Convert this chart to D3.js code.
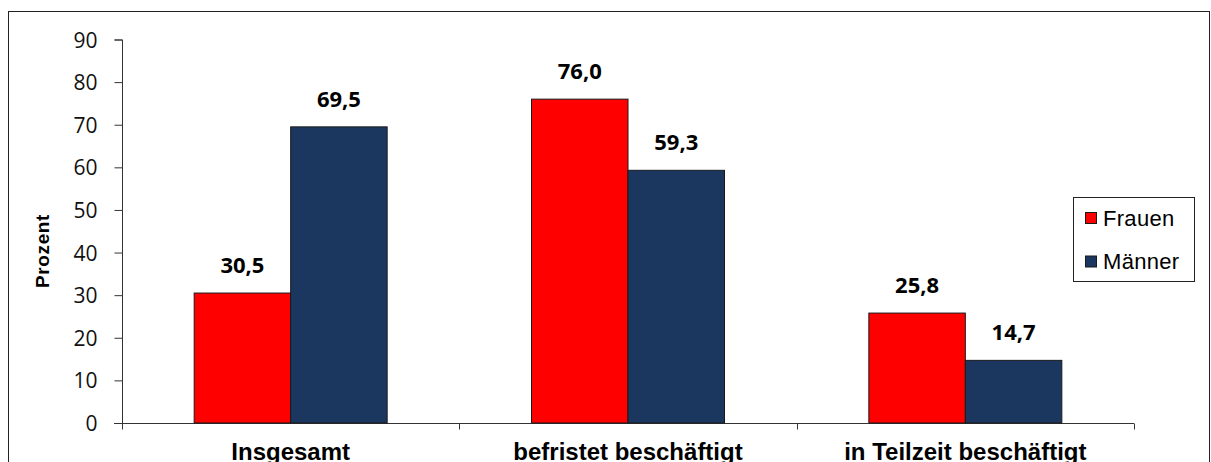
<!DOCTYPE html>
<html>
<head>
<meta charset="utf-8">
<script src="https://cdn.jsdelivr.net/npm/d3@7"></script>
<style>
  body { margin: 0; background: #fff; }
  svg { display: block; }
</style>
</head>
<body>
<div id="chart"></div>
<script>
// data
var categories = ["Insgesamt", "befristet beschäftigt", "in Teilzeit beschäftigt"];
var seriesNames = ["Frauen", "Männer"];
var frauen = [30.5, 76.0, 25.8];
var maenner = [69.5, 59.3, 14.7];
var yTicks = [0, 10, 20, 30, 40, 50, 60, 70, 80, 90];
var colors = ["#ff0000", "#1b365f"];

var W = 1211, H = 462;
var svg = d3.select("#chart").append("svg")
  .attr("width", W)
  .attr("height", H);

// chart frame
svg.append("rect")
  .attr("x", 8.5).attr("y", 11.5)
  .attr("width", 1201).attr("height", 470)
  .attr("fill", "none")
  .attr("stroke", "#222")
  .attr("stroke-width", 1);

var x0 = d3.scaleBand().domain(categories).range([122, 1134]).paddingInner(0).paddingOuter(0);
var x1 = d3.scaleBand().domain(seriesNames).range([0, x0.bandwidth()]).paddingInner(0).paddingOuter(0.748);
var y = d3.scaleLinear().domain([0, 90]).range([423, 39.5]);

var rows = categories.map(function (c, i) {
  return { cat: c, values: [frauen[i], maenner[i]] };
});

// y axis
var yAxis = svg.append("g")
  .attr("transform", "translate(122.5,0)")
  .call(d3.axisLeft(y).tickValues(yTicks).tickSize(8).tickPadding(17).tickFormat(d3.format("d")));
yAxis.select(".domain").attr("stroke", "#333").attr("d", "M-8," + (y(90) + 0.5) + "H0V" + (y(0) + 5));
yAxis.selectAll(".tick line").attr("stroke", "#333");
yAxis.selectAll(".tick text")
  .attr("font-family", "'Open Sans', sans-serif")
  .attr("font-size", 21)
  .attr("fill", "#111")
  .attr("dy", "0.357em");

// x axis
var xAxis = svg.append("g")
  .attr("transform", "translate(0," + (y(0) + 0.5) + ")");
xAxis.append("line")
  .attr("x1", 114).attr("x2", 1134)
  .attr("stroke", "#333");
var bounds = categories.map(function (c) { return x0(c); }).concat([x0.range()[1]]);
xAxis.selectAll("line.cut")
  .data(bounds)
  .enter().append("line")
  .attr("class", "cut")
  .attr("x1", function (d) { return Math.round(d) + 0.5; })
  .attr("x2", function (d) { return Math.round(d) + 0.5; })
  .attr("y1", 0).attr("y2", 6)
  .attr("stroke", "#333");
xAxis.selectAll("text")
  .data(categories)
  .enter().append("text")
  .attr("x", function (d) { return x0(d) + x0.bandwidth() / 2; })
  .attr("y", 36)
  .attr("text-anchor", "middle")
  .attr("font-family", "'Liberation Sans', Arial, sans-serif")
  .attr("font-weight", "bold")
  .attr("font-size", 24)
  .attr("fill", "#000")
  .text(function (d) { return d; });

// y title
svg.append("text")
  .attr("transform", "translate(49,251) rotate(-90)")
  .attr("text-anchor", "middle")
  .attr("font-family", "'Liberation Sans', Arial, sans-serif")
  .attr("font-weight", "bold")
  .attr("font-size", 19)
  .attr("letter-spacing", 0.6)
  .attr("fill", "#000")
  .text("Prozent");

// bars
var groups = svg.selectAll("g.grp")
  .data(rows)
  .enter().append("g")
  .attr("class", "grp")
  .attr("transform", function (d) { return "translate(" + x0(d.cat) + ",0)"; });

groups.selectAll("rect")
  .data(function (d) { return d.values.map(function (v, i) { return { s: seriesNames[i], v: v, i: i }; }); })
  .enter().append("rect")
  .attr("x", function (d) { return x1(d.s); })
  .attr("y", function (d) { return y(d.v); })
  .attr("width", x1.bandwidth())
  .attr("height", function (d) { return y(0) - y(d.v); })
  .attr("fill", function (d) { return colors[d.i]; })
  .attr("stroke", "#1a1a1a")
  .attr("stroke-width", 1);

groups.selectAll("text")
  .data(function (d) { return d.values.map(function (v, i) { return { s: seriesNames[i], v: v }; }); })
  .enter().append("text")
  .attr("x", function (d) { return x1(d.s) + x1.bandwidth() / 2; })
  .attr("y", function (d) { return y(d.v) - 20; })
  .attr("text-anchor", "middle")
  .attr("font-family", "'Open Sans', sans-serif")
  .attr("font-weight", "bold")
  .attr("font-size", 22)
  .attr("fill", "#000")
  .text(function (d) { return d.v.toFixed(1).replace(".", ","); });

// legend
var legend = svg.append("g").attr("transform", "translate(1073,197)");
legend.append("rect")
  .attr("x", 0.5).attr("y", 0.5)
  .attr("width", 121).attr("height", 84)
  .attr("fill", "#fff")
  .attr("stroke", "#222");
var items = legend.selectAll("g.item")
  .data(seriesNames)
  .enter().append("g")
  .attr("class", "item")
  .attr("transform", function (d, i) { return "translate(0," + (i * 43.5) + ")"; });
items.append("rect")
  .attr("x", 12.5).attr("y", 15.5)
  .attr("width", 11).attr("height", 11)
  .attr("fill", function (d, i) { return colors[i]; })
  .attr("stroke", "#1a1a1a");
items.append("text")
  .attr("x", 30).attr("y", 28.5)
  .attr("font-family", "'Liberation Sans', Arial, sans-serif")
  .attr("font-size", 22)
  .attr("letter-spacing", 0.3)
  .attr("fill", "#000")
  .text(function (d) { return d; });
</script>
</body>
</html>
